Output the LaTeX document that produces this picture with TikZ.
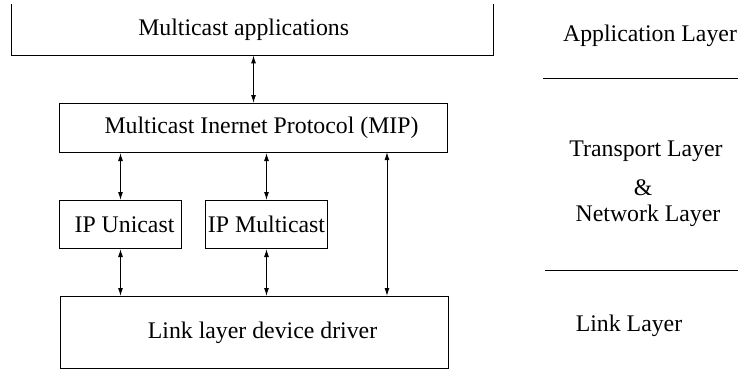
\documentclass[tikz,border=0pt]{standalone}
\usepackage{fontspec}
\setmainfont{Liberation Serif}
\usetikzlibrary{arrows.meta}
\begin{document}
\begin{tikzpicture}[x=1pt,y=-1pt,
  box/.style={draw,line width=1pt,inner sep=0pt,anchor=north west},
  txt/.style={font=\fontsize{23.8}{26}\selectfont},
  arr/.style={line width=1pt,{Latex[length=8pt,width=5pt]}-{Latex[length=8pt,width=5pt]}},
  sep/.style={line width=1pt}]
\useasboundingbox (0,0) rectangle (739,370);
% top (open) box
\node[inner sep=0pt,minimum width=482pt,minimum height=51pt,anchor=north west,txt] (app) at (11,4) {\hspace*{-17pt}Multicast applications};
\draw[line width=1pt] (app.north west) -- (app.south west) -- (app.south east) -- (app.north east);
% MIP
\node[box,txt,minimum width=388pt,minimum height=49pt] (mip) at (59,103) {\hspace*{16pt}Multicast Inernet Protocol (MIP)};
% IP boxes
\node[box,txt,minimum width=122pt,minimum height=48pt] (ipu) at (59,200) {\hspace*{8pt}IP Unicast};
\node[box,txt,minimum width=122pt,minimum height=48pt] (ipm) at (205,200) {IP Multicast};
% link box
\node[box,txt,minimum width=388pt,minimum height=72pt] (link) at (60,296) {\hspace*{16pt}Link layer device driver};
% arrows
\draw[arr] (app.south -| mip.north) -- (mip.north);
\draw[arr] (ipu.north |- mip.south) -- (ipu.north);
\draw[arr] (ipm.north |- mip.south) -- (ipm.north);
\draw[arr] (ipu.south) -- (ipu.south |- link.north);
\draw[arr] (ipm.south) -- (ipm.south |- link.north);
\coordinate (c3) at (387,152);
\draw[arr] (c3) -- (c3 |- link.north);
% right labels
\node[txt] (l1) at (650,36) {Application Layer};
\draw[sep] (543,78) -- (738,78);
\node[txt] (l2) at (646,151) {Transport Layer};
\node[txt] (l3) at (643,188) {\&};
\node[txt] (l4) at (648,216) {Network Layer};
\draw[sep] (545,270) -- (738,270);
\node[txt] (l5) at (629,326) {Link Layer};
\end{tikzpicture}
\end{document}
